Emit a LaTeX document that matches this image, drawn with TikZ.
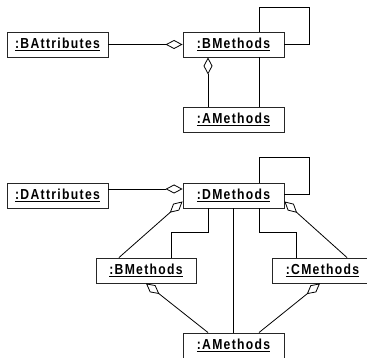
\documentclass[tikz,border=0pt]{standalone}
\usepackage{fontspec}
\setmainfont{Liberation Sans}
\newfontfamily\objfont[FakeStretch=0.84, LetterSpace=9]{Liberation Sans}
\usetikzlibrary{arrows.meta}
% object name, set underlined with a firm rule
\newcommand\objname[1]{\setbox0\hbox{#1}\rlap{\raisebox{-2.6pt}{\rule{\wd0}{1pt}}}\box0}
\tikzset{
  obj/.style={draw=black!85, line width=0.9pt, minimum width=101pt, minimum height=25pt,
    inner sep=0pt, font=\objfont\fontsize{14.5}{16}\selectfont\bfseries},
  link/.style={draw=black, line width=0.8pt},
  agg/.style={link, -{Diamond[open, length=17pt, width=9pt, line width=0.8pt]}},
}
\begin{document}
\begin{tikzpicture}[x=1pt,y=-1pt]
\useasboundingbox (0,0) rectangle (367,358);

% upper collaboration
\node[obj] (battr) at (57.5,44.5)  {\objname{:BAttributes}};
\node[obj] (bmA)   at (233.5,44.5) {\objname{:BMethods}};
\node[obj] (amA)   at (233.5,119.5) {\objname{:AMethods}};
\coordinate (loopA) at (309,7);

\draw[agg] (battr) -- (bmA);
\draw[link] ([xshift=25.5pt]bmA.north) |- (loopA) |- (bmA.east);
\draw[agg] ([xshift=-25.5pt]amA.north) -- ([xshift=-25.5pt]bmA.south);
\draw[link] ([xshift=25.5pt]bmA.south) -- ([xshift=25.5pt]amA.north);

% lower collaboration
\node[obj] (dattr) at (57.5,195.5)  {\objname{:DAttributes}};
\node[obj] (dm)    at (233.5,195.5) {\objname{:DMethods}};
\node[obj, minimum width=100pt] (bmB) at (146,270.5) {\objname{:BMethods}};
\node[obj] (cm)    at (322.5,270.5) {\objname{:CMethods}};
\node[obj] (amB)   at (233.5,345.5) {\objname{:AMethods}};
\coordinate (loopB) at (309,157);

\draw[agg] ([yshift=6.5pt]dattr.east) -- ([yshift=6.5pt]dm.west);
\draw[link] ([xshift=25.5pt]dm.north) |- (loopB) |- ([yshift=1.5pt]dm.east);
\draw[agg] ([xshift=-27pt]bmB.north) -- ([yshift=7pt]dm.south west);
\draw[agg] ([xshift=24.5pt]cm.north) -- ([yshift=7pt]dm.south east);
\draw[link] ([xshift=-25.5pt]dm.south) -- ++(0,24) -| ([xshift=25pt]bmB.north);
\draw[link] ([xshift=25.5pt]dm.south) -- ++(0,24) -| ([xshift=-26.5pt]cm.north);
\draw[link] (dm.south) -- (amB.north);
\draw[agg] ([xshift=-25.5pt]amB.north) -- (bmB.south);
\draw[agg] ([xshift=25.5pt]amB.north) -- ([xshift=-2.5pt]cm.south);
\end{tikzpicture}
\end{document}
